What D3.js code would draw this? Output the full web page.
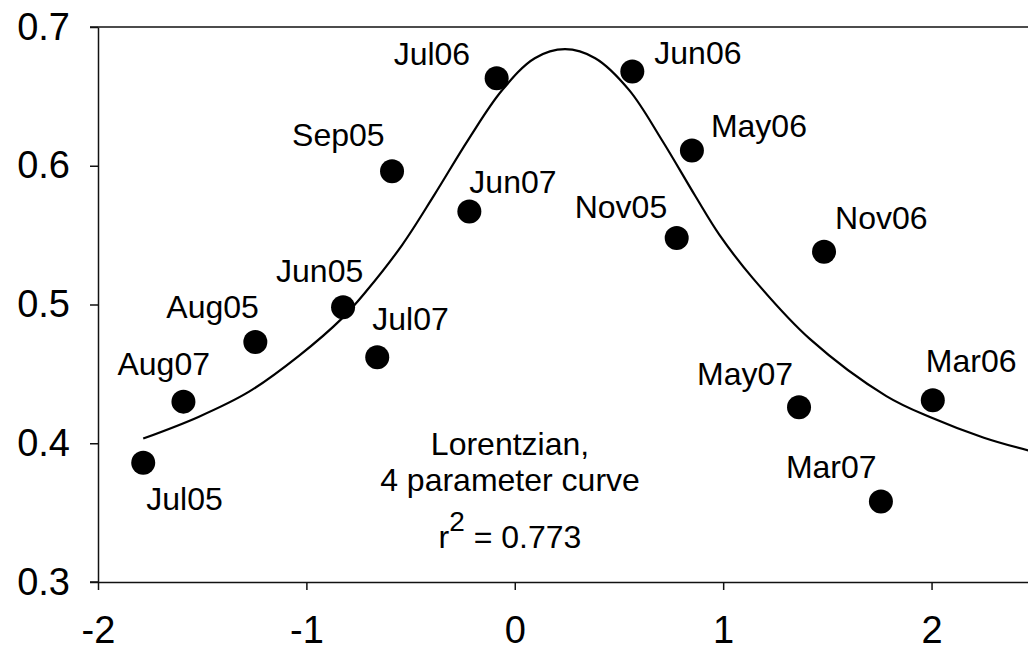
<!DOCTYPE html>
<html>
<head>
<meta charset="utf-8">
<script src="https://cdn.jsdelivr.net/npm/d3@7"></script>
<style>
  body { margin: 0; background: white; overflow: hidden; }
  text { font-family: "Liberation Sans", Arial, sans-serif; fill: black; }
</style>
</head>
<body>
<script>
const width = 1028;
const height = 650;

// sampling months and their values
const months = ["Jul05","Aug07","Aug05","Jun05","Jul07","Sep05","Jul06","Jun07",
                "Jun06","May06","Nov05","Nov06","Mar06","May07","Mar07"];
const xValues = [-1.783,-1.590,-1.245,-0.824,-0.660,-0.589,-0.087,-0.218,
                 0.564,0.850,0.777,1.484,2.006,1.364,1.757];
const yValues = [0.386,0.430,0.473,0.498,0.462,0.596,0.663,0.567,
                 0.668,0.611,0.548,0.538,0.431,0.426,0.358];

// fitted Lorentzian curve
const curveX = [-1.783,-1.518,-1.277,-1.036,-0.829,-0.713,-0.540,-0.386,-0.222,-0.063,
                0.096,0.241,0.386,0.549,0.708,0.867,0.983,1.142,1.417,1.783,1.995,2.251,2.477];
const curveY = [0.4034,0.419,0.437,0.463,0.490,0.5095,0.543,0.579,0.619,0.654,
                0.6775,0.684,0.6775,0.6545,0.618,0.578,0.550,0.519,0.475,0.434,0.4187,0.404,0.3943];

const xTicks = [-2,-1,0,1,2];
const yTicks = [0.3,0.4,0.5,0.6,0.7];
const noteLines = ["Lorentzian,", "4 parameter curve"];
const rSquared = "0.773";

// label placement [dx, dy] from each dot, in pixels
const labelOffset = [[3,47],[-66,-27],[-89,-24],[-67,-25],[-5,-27],[-100,-25],[-103,-13],[0,-19],
                     [22,-7],[19,-13],[-102,-20],[11,-23],[-7,-28],[-102,-22],[-95,-24]];

const svg = d3.select("body").append("svg")
    .attr("width", width)
    .attr("height", height);

const x = d3.scaleLinear().domain([-2, 2.5]).range([98, 1035.75]);
const y = d3.scaleLinear().domain([0.3, 0.7]).range([582, 27]);

// frame top line
svg.append("line")
    .attr("x1", x(-2) - 8).attr("x2", width)
    .attr("y1", y(0.7)).attr("y2", y(0.7))
    .attr("stroke", "#111").attr("stroke-width", 1.5);

const yAxis = svg.append("g")
    .attr("transform", `translate(${x(-2)},0)`)
    .call(d3.axisLeft(y).tickValues(yTicks).tickFormat(d3.format(".1f"))
            .tickSize(8).tickSizeOuter(0).tickPadding(20));

const xAxis = svg.append("g")
    .attr("transform", `translate(0,${y(0.3)})`)
    .call(d3.axisBottom(x).tickValues(xTicks).tickFormat(d => d < 0 ? "-" + Math.abs(d) : d)
            .tickSize(8).tickSizeOuter(0).tickPadding(26));

for (const ax of [xAxis, yAxis]) {
    ax.select(".domain").attr("stroke", "#111").attr("stroke-width", 1.5);
    ax.selectAll(".tick line").attr("stroke", "#111").attr("stroke-width", 1.5);
    ax.selectAll(".tick text")
        .style("font-family", '"Liberation Sans", Arial, sans-serif')
        .style("font-size", "38px")
        .attr("fill", "black");
}
// x-axis line reaches left to the 0.3 tick
svg.append("line")
    .attr("x1", x(-2) - 8).attr("x2", x(-2))
    .attr("y1", y(0.3)).attr("y2", y(0.3))
    .attr("stroke", "#111").attr("stroke-width", 1.5);

// curve
const line = d3.line()
    .x(d => x(d[0]))
    .y(d => y(d[1]))
    .curve(d3.curveCatmullRom);

svg.append("path")
    .datum(curveX.map((v, i) => [v, curveY[i]]))
    .attr("d", line)
    .attr("fill", "none")
    .attr("stroke", "black")
    .attr("stroke-width", 2.2);

// points
const pts = months.map((m, i) => ({name: m, x: xValues[i], y: yValues[i], off: labelOffset[i]}));

svg.append("g").selectAll("circle")
    .data(pts)
    .join("circle")
    .attr("cx", d => x(d.x))
    .attr("cy", d => y(d.y))
    .attr("r", 12)
    .attr("fill", "black");

svg.append("g").selectAll("text")
    .data(pts)
    .join("text")
    .attr("x", d => x(d.x) + d.off[0])
    .attr("y", d => y(d.y) + d.off[1])
    .style("font-size", "32px")
    .text(d => d.name);

// annotation
const note = svg.append("g");
noteLines.forEach((t, i) => {
    note.append("text")
        .attr("x", 510)
        .attr("y", 455 + i * 36)
        .attr("text-anchor", "middle")
        .style("font-size", "32px")
        .text(t);
});
const r2 = note.append("text")
    .attr("x", 510)
    .attr("y", 548)
    .attr("text-anchor", "middle")
    .style("font-size", "32px");
r2.append("tspan").text("r");
r2.append("tspan").attr("dy", -17).style("font-size", "28px").text("2");
r2.append("tspan").attr("dy", 17).text(" = " + rSquared);
</script>
</body>
</html>
